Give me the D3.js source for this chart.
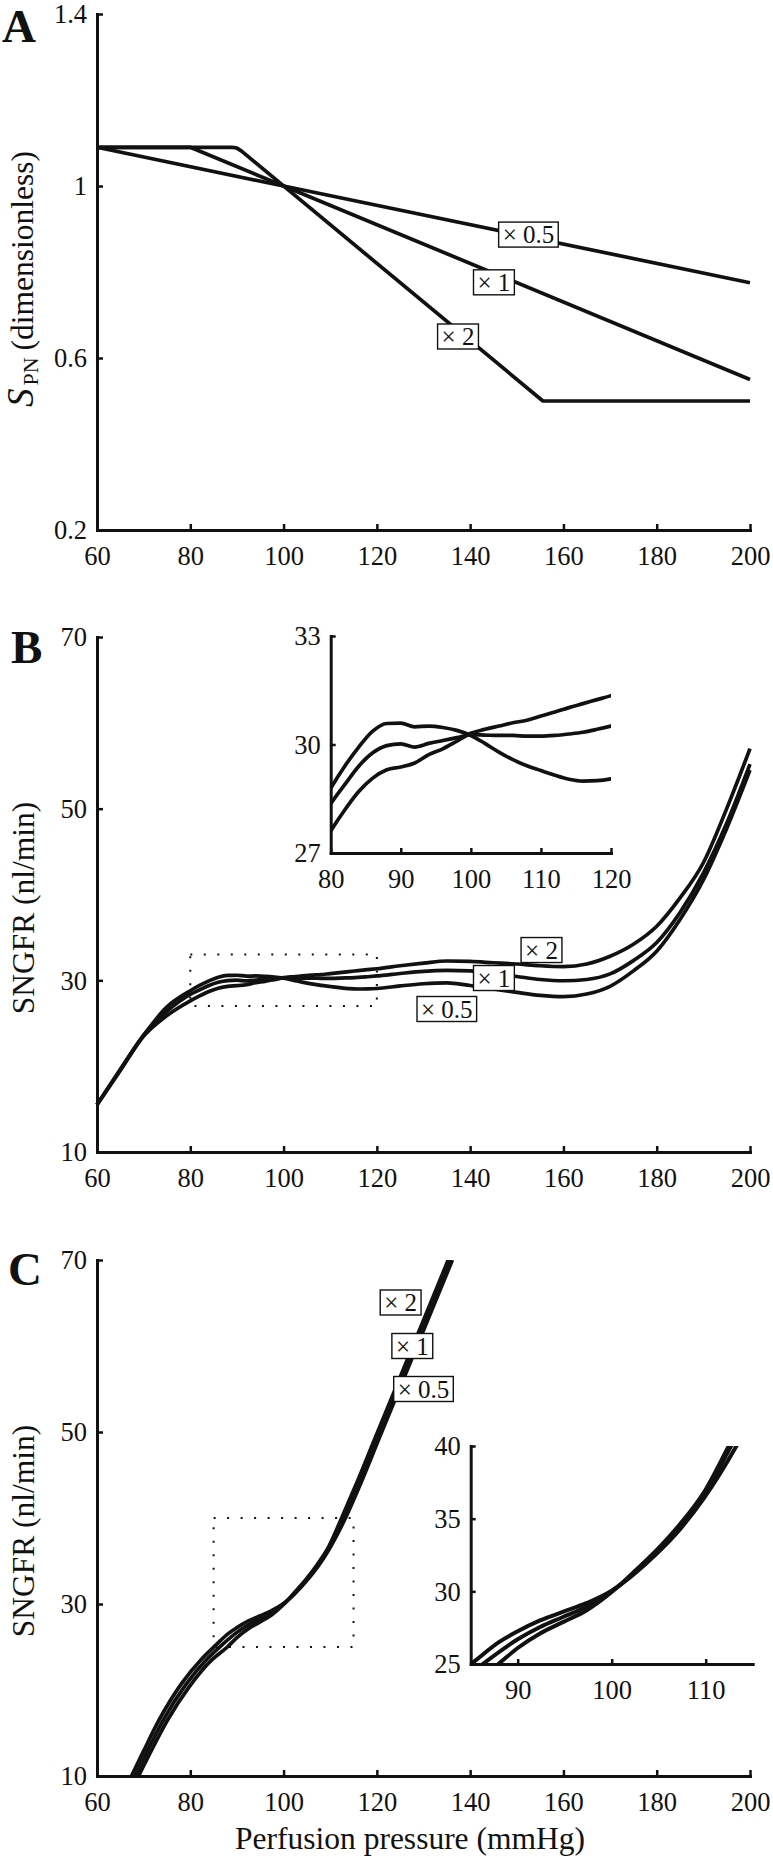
<!DOCTYPE html>
<html><head><meta charset="utf-8">
<script src="https://cdn.jsdelivr.net/npm/d3@7"></script>
<style>
body{margin:0;background:#fff;}
svg{display:block;background:#fff;}
svg text{font-family:'Liberation Serif','DejaVu Serif',serif;}
</style></head><body>
<svg id="c" width="773" height="1859"></svg>
<script>
// ---------------- DATA ----------------
const xTicks = [60, 80, 100, 120, 140, 160, 180, 200];
const xTickLabels = ["60", "80", "100", "120", "140", "160", "180", "200"];

// Panel A: S_PN vs perfusion pressure
const aYTicks = [0.2, 0.6, 1, 1.4];
const aYTickLabels = ["0.2", "0.6", "1", "1.4"];
const aHalfX = [60, 100, 200];
const aHalfY = [1.09, 1.0, 0.775];
const aOneX = [60, 80, 100, 200];
const aOneY = [1.09, 1.09, 1.0, 0.55];
const aTwoX = [60, 89, 90, 91, 155.6, 200];
const aTwoY = [1.09, 1.09, 1.088, 1.081, 0.5, 0.5];
const aLabels = ["× 0.5", "× 1", "× 2"];
const aLabelX = [152.5, 145.1, 137.4];
const aLabelY = [0.887, 0.776, 0.650];

// Panel B: SNGFR vs perfusion pressure
const bYTicks = [10, 30, 50, 70];
const bYTickLabels = ["10", "30", "50", "70"];
const bX = [60, 65, 70, 75, 80, 82, 84, 86, 88, 90, 92, 94, 96, 98, 100, 102, 104, 106, 108, 110, 112, 114, 116, 118, 120,
            125, 130, 135, 140, 145, 150, 155, 160, 165, 170, 175, 180, 185, 190, 195, 200];
const bHalf = [15.5, 19.6, 23.6, 26.9, 28.79, 29.40, 29.93, 30.37, 30.58, 30.59, 30.49, 30.51, 30.47, 30.39, 30.25, 30.03, 29.79, 29.58, 29.41, 29.28, 29.15, 29.04, 28.99, 29.00, 29.05,
               29.35, 29.6, 29.7, 29.4, 29.0, 28.6, 28.25, 28.1, 28.4, 29.3, 31.1, 33.4, 37.1, 41.7, 47.7, 54.5];
const bOne = [15.5, 19.6, 23.6, 26.4, 28.36, 28.89, 29.40, 29.77, 29.97, 30.02, 29.93, 30.03, 30.11, 30.19, 30.27, 30.26, 30.25, 30.25, 30.23, 30.23, 30.25, 30.29, 30.34, 30.42, 30.51,
              30.8, 31.05, 31.15, 31.1, 30.8, 30.45, 30.1, 29.95, 30.1, 30.75, 32.3, 34.4, 37.9, 42.5, 48.3, 55.2];
const bTwo = [15.5, 19.5, 23.5, 25.9, 27.61, 28.19, 28.70, 29.07, 29.30, 29.38, 29.49, 29.72, 29.88, 30.09, 30.31, 30.42, 30.51, 30.60, 30.67, 30.79, 30.90, 31.02, 31.13, 31.24, 31.35,
              31.7, 32.0, 32.25, 32.2, 32.05, 31.9, 31.7, 31.6, 31.9, 32.8, 34.2, 36.3, 39.6, 43.7, 50.0, 57.0];
const bLabels = ["× 2", "× 1", "× 0.5"];
const bLabelX = [155.3, 145.1, 135.0];
const bLabelY = [33.53, 30.27, 26.66];
const bZoomX = [80, 120];
const bZoomY = [27, 33];
const bInsetXTicks = [80, 90, 100, 110, 120];
const bInsetXTickLabels = ["80", "90", "100", "110", "120"];
const bInsetYTicks = [27, 30, 33];
const bInsetYTickLabels = ["27", "30", "33"];

// Panel C: SNGFR vs perfusion pressure
const cYTicks = [10, 30, 50, 70];
const cYTickLabels = ["10", "30", "50", "70"];
const cHalfX = [67.4, 69.9, 73.4, 78.2, 82.6, 85.63, 88, 90, 92.38, 94.87, 97.35, 100, 102.3, 104.8, 107.3, 109.8, 113.27, 116.6, 120.6, 125.6, 130.6, 136.2];
const cHalfY = [10, 12.8, 16.6, 20.8, 23.7, 25.3, 26.5, 27.25, 28.0, 28.6, 29.2, 30.05, 31.15, 32.6, 34.3, 36.4, 40, 44.1, 49.4, 56.0, 62.6, 70];
const cOneX = [68.2, 70.6, 74.2, 79.0, 83.6, 86.7, 90, 92.38, 94.87, 97.35, 100, 102.3, 104.8, 107.3, 109.8, 112.7, 116.0, 120.0, 125.0, 130.0, 135.6];
const cOneY = [10, 12.7, 16.5, 20.6, 23.6, 25.2, 26.7, 27.55, 28.25, 28.95, 30.0, 31.2, 32.7, 34.45, 36.6, 40, 44.1, 49.4, 56.0, 62.6, 70];
const cTwoX = [68.9, 71.3, 75.0, 79.8, 84.6, 87.94, 90, 92.38, 94.87, 97.35, 100, 102.3, 104.8, 107.3, 109.8, 112.45, 115.7, 119.7, 124.7, 129.7, 135.3];
const cTwoY = [10, 12.6, 16.4, 20.4, 23.5, 25.0, 26.1, 27.1, 27.9, 28.7, 29.95, 31.3, 32.85, 34.65, 36.8, 40, 44.1, 49.4, 56.0, 62.6, 70];
const cLabels = ["× 2", "× 1", "× 0.5"];
const cLabelX = [125.1, 127.6, 130.0];
const cLabelY = [65.06, 60.0, 55.0];
const cZoomX = [85, 115];
const cZoomY = [25, 40];
const cInsetXTicks = [90, 100, 110];
const cInsetXTickLabels = ["90", "100", "110"];
const cInsetYTicks = [25, 30, 35, 40];
const cInsetYTickLabels = ["25", "30", "35", "40"];

// ---------------- DRAWING ----------------
const FONT = "'Liberation Serif','DejaVu Serif',serif";
const TICKFS = 26.5;
const svg = d3.select("#c");
const zip = (xs, ys) => xs.map((x, i) => [x, ys[i]]);

function axes(g, x, y, xt, xl, yt, yl, tickLen) {
  const gx = g.append("g").attr("transform", `translate(0,${y.range()[0]})`)
    .call(d3.axisBottom(x).tickValues(xt).tickFormat((d, i) => xl[i]).tickSizeInner(-tickLen).tickSizeOuter(0));
  gx.selectAll(".tick text").attr("y", 35).attr("dy", null);
  const gy = g.append("g").attr("transform", `translate(${x.range()[0]},0)`)
    .call(d3.axisLeft(y).tickValues(yt).tickFormat((d, i) => yl[i]).tickSizeInner(-tickLen).tickSizeOuter(0).tickPadding(10));
  gy.selectAll(".tick text").attr("dy", "0.33em");
  [gx, gy].forEach(a => {
    a.attr("font-family", null).attr("font-size", null);
    a.select(".domain").attr("stroke", "#111").attr("stroke-width", 3).attr("stroke-linecap", "square");
    a.selectAll(".tick line").attr("stroke", "#111").attr("stroke-width", 2.5);
    a.selectAll(".tick text").attr("fill", "#111").style("font-family", FONT).style("font-size", TICKFS + "px");
  });
}

function lines(g, x, y, seriesList, width, clipId, curve) {
  const line = d3.line().x(d => x(d[0])).y(d => y(d[1])).curve(curve);
  const lg = g.append("g");
  if (clipId) lg.attr("clip-path", `url(#${clipId})`);
  seriesList.forEach(s => {
    lg.append("path").attr("d", line(s)).attr("fill", "none").attr("stroke", "#111")
      .attr("stroke-width", width).attr("stroke-linejoin", "round").attr("stroke-linecap", "butt");
  });
}

function clip(id, x, y) {
  svg.append("defs").append("clipPath").attr("id", id).append("rect")
    .attr("x", x.range()[0]).attr("y", y.range()[1])
    .attr("width", x.range()[1] - x.range()[0]).attr("height", y.range()[0] - y.range()[1]);
}

function labels(g, x, y, txts, xs, ys) {
  txts.forEach((t, i) => {
    const cx = x(xs[i]), cy = y(ys[i]);
    const r = g.append("rect");
    const tx = g.append("text").attr("x", cx).attr("y", cy).attr("dy", "0.34em")
      .attr("text-anchor", "middle").style("font-family", FONT).style("font-size", "25px").attr("fill", "#111").text(t);
    const bb = tx.node().getBBox();
    r.attr("x", bb.x - 4).attr("y", cy - 12.5).attr("width", bb.width + 8).attr("height", 25)
      .attr("fill", "#fff").attr("stroke", "#111").attr("stroke-width", 1.4);
  });
}

function dottedBox(g, x, y, xr, yr) {
  g.append("rect").attr("x", x(xr[0])).attr("y", y(yr[1]))
    .attr("width", x(xr[1]) - x(xr[0])).attr("height", y(yr[0]) - y(yr[1]))
    .attr("fill", "none").attr("stroke", "#111").attr("stroke-width", 2)
    .attr("stroke-dasharray", "2 11.5");
}

function letter(t, xpos, ypos) {
  svg.append("text").attr("x", xpos).attr("y", ypos).style("font-family", FONT)
    .style("font-weight", "bold").style("font-size", "47px").attr("fill", "#111").text(t);
}

function yTitle(cx, cy, build) {
  const t = svg.append("text").attr("transform", `translate(${cx},${cy}) rotate(-90)`)
    .attr("text-anchor", "middle").style("font-family", FONT).style("font-size", "31.5px").attr("fill", "#111");
  build(t);
}

const L = 97, R = 750;
const LW = 3.7;

// ----- Panel A -----
{
  const x = d3.scaleLinear().domain([60, 200]).range([L, R]);
  const y = d3.scaleLinear().domain([0.2, 1.4]).range([530, 14]);
  const g = svg.append("g");
  axes(g, x, y, xTicks, xTickLabels, aYTicks, aYTickLabels, 6);
  lines(g, x, y, [zip(aHalfX, aHalfY), zip(aOneX, aOneY), zip(aTwoX, aTwoY)], LW, null, d3.curveLinear);
  labels(g, x, y, aLabels, aLabelX, aLabelY);
  letter("A", 2, 42);
  yTitle(33, 279, t => {
    t.append("tspan").style("font-style", "italic").style("font-size", "37px").text("S");
    t.append("tspan").style("font-size", "22px").attr("dy", 5).attr("dx", 3).text("PN");
    t.append("tspan").attr("dy", -5).attr("dx", 7).text("(dimensionless)");
  });
}

// ----- Panel B -----
{
  const x = d3.scaleLinear().domain([60, 200]).range([L, R]);
  const y = d3.scaleLinear().domain([10, 70]).range([1152, 637]);
  const g = svg.append("g");
  axes(g, x, y, xTicks, xTickLabels, bYTicks, bYTickLabels, 6);
  lines(g, x, y, [zip(bX, bHalf), zip(bX, bOne), zip(bX, bTwo)], LW, null, d3.curveMonotoneX);
  dottedBox(g, x, y, bZoomX, bZoomY);
  labels(g, x, y, bLabels, bLabelX, bLabelY);
  letter("B", 11, 663);
  yTitle(34, 908, t => t.text("SNGFR (nl/min)"));

  const xi = d3.scaleLinear().domain(bZoomX).range([330.7, 611]);
  const yi = d3.scaleLinear().domain(bZoomY).range([853, 636]);
  clip("clipB", xi, yi);
  const gi = svg.append("g");
  axes(gi, xi, yi, bInsetXTicks, bInsetXTickLabels, bInsetYTicks, bInsetYTickLabels, 5);
  lines(gi, xi, yi, [zip(bX, bHalf), zip(bX, bOne), zip(bX, bTwo)], LW, "clipB", d3.curveMonotoneX);
}

// ----- Panel C -----
{
  const x = d3.scaleLinear().domain([60, 200]).range([L, R]);
  const y = d3.scaleLinear().domain([10, 70]).range([1776, 1260]);
  clip("clipC", x, y);
  const g = svg.append("g");
  axes(g, x, y, xTicks, xTickLabels, cYTicks, cYTickLabels, 6);
  lines(g, x, y, [zip(cHalfX, cHalfY), zip(cOneX, cOneY), zip(cTwoX, cTwoY)], LW, "clipC", d3.curveMonotoneX);
  dottedBox(g, x, y, cZoomX, cZoomY);
  labels(g, x, y, cLabels, cLabelX, cLabelY);
  letter("C", 8, 1285);
  yTitle(34, 1531, t => t.text("SNGFR (nl/min)"));
  svg.append("text").attr("x", 410).attr("y", 1849).attr("text-anchor", "middle")
    .style("font-family", FONT).style("font-size", "31.5px").attr("fill", "#111").text("Perfusion pressure (mmHg)");

  const xi = d3.scaleLinear().domain(cZoomX).range([470.7, 752.7]);
  const yi = d3.scaleLinear().domain(cZoomY).range([1664, 1446]);
  clip("clipCi", xi, yi);
  const gi = svg.append("g");
  axes(gi, xi, yi, cInsetXTicks, cInsetXTickLabels, cInsetYTicks, cInsetYTickLabels, 5);
  lines(gi, xi, yi, [zip(cHalfX, cHalfY), zip(cOneX, cOneY), zip(cTwoX, cTwoY)], 4, "clipCi", d3.curveMonotoneX);
}
</script>
</body></html>
